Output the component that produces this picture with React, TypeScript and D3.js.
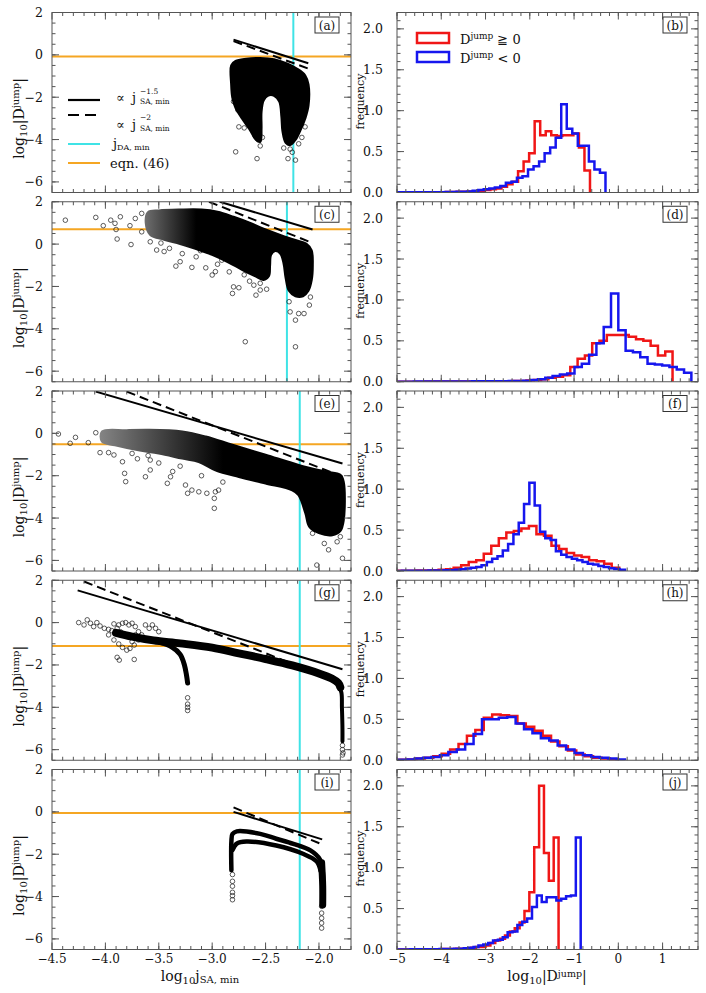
import React from 'react';
import * as d3 from 'd3';

// ---------- histogram data (bin heights, left to right) ----------
// each series: right edge of the last bin, bin width, heights
const histRedB = { end: -0.64, w: 0.125, h: [0.002, 0.002, 0.002, 0.003, 0.003, 0.003, 0.003, 0.003, 0.004, 0.005, 0.006, 0.008, 0.01, 0.012, 0.015, 0.02, 0.03, 0.04, 0.05, 0.07, 0.1, 0.13, 0.26, 0.38, 0.48, 0.87, 0.7, 0.75, 0.7, 0.69, 0.7, 0.7, 0.72, 0.55, 0.27] };
const histBlueB = { end: -0.29, w: 0.125, h: [0.002, 0.002, 0.002, 0.002, 0.003, 0.003, 0.003, 0.003, 0.004, 0.005, 0.006, 0.008, 0.01, 0.012, 0.02, 0.03, 0.04, 0.05, 0.06, 0.08, 0.12, 0.13, 0.18, 0.2, 0.28, 0.32, 0.38, 0.48, 0.55, 0.67, 1.08, 0.78, 0.72, 0.57, 0.57, 0.38, 0.28, 0.24] };
const histRedD = { end: 1.225, w: 0.165, h: [0.001, 0.001, 0.001, 0.001, 0.002, 0.002, 0.002, 0.002, 0.003, 0.003, 0.003, 0.004, 0.004, 0.005, 0.006, 0.007, 0.008, 0.01, 0.015, 0.02, 0.03, 0.05, 0.06, 0.08, 0.18, 0.28, 0.32, 0.47, 0.5, 0.57, 0.57, 0.57, 0.55, 0.52, 0.5, 0.44, 0.32, 0.37] };
const histBlueD = { end: 1.65, w: 0.165, h: [0.001, 0.001, 0.001, 0.002, 0.002, 0.002, 0.003, 0.003, 0.003, 0.004, 0.004, 0.005, 0.005, 0.006, 0.006, 0.007, 0.008, 0.01, 0.012, 0.02, 0.03, 0.05, 0.07, 0.09, 0.1, 0.18, 0.22, 0.33, 0.47, 0.67, 1.08, 0.63, 0.38, 0.36, 0.3, 0.22, 0.21, 0.2, 0.18, 0.15, 0.11] };
const histRedF = { end: 0.02, w: 0.17, h: [0.002, 0.003, 0.004, 0.005, 0.007, 0.01, 0.015, 0.02, 0.04, 0.07, 0.11, 0.13, 0.21, 0.31, 0.4, 0.47, 0.49, 0.52, 0.55, 0.45, 0.43, 0.31, 0.27, 0.22, 0.19, 0.17, 0.13, 0.12, 0.09, 0.04] };
const histBlueF = { end: 0.15, w: 0.12, h: [0.001, 0.001, 0.002, 0.002, 0.003, 0.003, 0.004, 0.005, 0.006, 0.007, 0.008, 0.01, 0.015, 0.02, 0.03, 0.04, 0.05, 0.07, 0.11, 0.15, 0.18, 0.25, 0.33, 0.45, 0.59, 0.82, 1.08, 0.8, 0.48, 0.4, 0.38, 0.24, 0.2, 0.17, 0.15, 0.13, 0.11, 0.09, 0.08, 0.06, 0.05, 0.035, 0.025, 0.015] };
const histRedH = { end: 0.0, w: 0.19, h: [0.002, 0.005, 0.01, 0.02, 0.03, 0.05, 0.08, 0.13, 0.2, 0.3, 0.37, 0.52, 0.56, 0.55, 0.54, 0.45, 0.41, 0.36, 0.3, 0.23, 0.17, 0.12, 0.07, 0.05, 0.03, 0.02, 0.01] };
const histBlueH = { end: 0.15, w: 0.19, h: [0.002, 0.005, 0.01, 0.02, 0.03, 0.04, 0.06, 0.1, 0.13, 0.2, 0.32, 0.5, 0.5, 0.52, 0.53, 0.45, 0.38, 0.33, 0.27, 0.24, 0.18, 0.13, 0.09, 0.06, 0.04, 0.03, 0.02, 0.01] };
const histRedJ = { end: -1.35, w: 0.11, h: [0.001, 0.001, 0.001, 0.001, 0.002, 0.002, 0.002, 0.003, 0.003, 0.004, 0.005, 0.006, 0.007, 0.008, 0.01, 0.015, 0.02, 0.03, 0.03, 0.05, 0.08, 0.11, 0.13, 0.17, 0.22, 0.26, 0.33, 0.47, 0.7, 1.25, 2.0, 1.18, 0.84, 1.37] };
const histBlueJ = { end: -0.85, w: 0.11, h: [0.001, 0.001, 0.001, 0.002, 0.002, 0.002, 0.003, 0.003, 0.004, 0.005, 0.006, 0.007, 0.008, 0.01, 0.015, 0.02, 0.03, 0.05, 0.06, 0.08, 0.11, 0.12, 0.15, 0.21, 0.22, 0.3, 0.34, 0.38, 0.52, 0.66, 0.58, 0.64, 0.64, 0.6, 0.62, 0.65, 0.66, 1.37] };

// ---------- scatter data: dense regions (outlines), thick tracks and loose points ----------
const blobA = [[-2.82, -0.5], [-2.78, -0.3], [-2.68, -0.2], [-2.55, -0.16], [-2.42, -0.22], [-2.3, -0.42], [-2.2, -0.68], [-2.13, -0.98], [-2.1, -1.4], [-2.1, -2.4], [-2.13, -3.0], [-2.17, -3.5], [-2.22, -4.0], [-2.27, -4.25], [-2.31, -4.15], [-2.34, -3.6], [-2.35, -2.9], [-2.37, -2.2], [-2.42, -1.92], [-2.48, -1.92], [-2.52, -2.15], [-2.54, -2.7], [-2.54, -3.5], [-2.55, -4.1], [-2.59, -4.0], [-2.65, -3.5], [-2.72, -3.0], [-2.78, -2.5], [-2.81, -2.0], [-2.82, -1.4]];
const blobC = [[-3.6, 1.5], [-3.5, 1.58], [-3.3, 1.62], [-3.1, 1.62], [-2.95, 1.52], [-2.8, 1.28], [-2.65, 1.0], [-2.5, 0.68], [-2.35, 0.4], [-2.22, 0.18], [-2.12, 0.02], [-2.07, -0.3], [-2.06, -1.0], [-2.07, -1.7], [-2.1, -2.2], [-2.15, -2.45], [-2.22, -2.45], [-2.28, -2.2], [-2.31, -1.6], [-2.33, -0.9], [-2.36, -0.45], [-2.41, -0.32], [-2.45, -0.5], [-2.46, -1.0], [-2.47, -1.5], [-2.52, -1.68], [-2.6, -1.5], [-2.72, -1.2], [-2.85, -0.85], [-3.0, -0.5], [-3.15, -0.22], [-3.3, 0.02], [-3.45, 0.22], [-3.58, 0.45], [-3.62, 1.0]];
const blobE = [[-4.03, 0.08], [-3.8, 0.14], [-3.59, 0.16], [-3.28, 0.08], [-3.06, -0.16], [-2.81, -0.55], [-2.5, -1.02], [-2.19, -1.5], [-1.94, -1.81], [-1.8, -1.97], [-1.77, -2.3], [-1.77, -4.1], [-1.8, -4.6], [-1.875, -4.8], [-2.0, -4.7], [-2.09, -4.4], [-2.125, -3.78], [-2.19, -2.91], [-2.25, -2.68], [-2.5, -2.36], [-2.75, -2.05], [-2.97, -1.73], [-3.125, -1.34], [-3.28, -1.18], [-3.5, -0.94], [-3.69, -0.79], [-3.91, -0.55], [-4.03, -0.39]];

const trackG1 = [[-3.9, -0.48], [-3.75, -0.66], [-3.55, -0.84], [-3.3, -0.98], [-3.0, -1.18], [-2.75, -1.45], [-2.5, -1.72], [-2.25, -2.02], [-2.0, -2.4], [-1.88, -2.64], [-1.82, -2.85], [-1.8, -3.05]];
const trackG2 = [[-1.82, -2.9], [-1.79, -3.3], [-1.785, -4.0], [-1.78, -5.0], [-1.78, -5.6]];
const trackG3 = [[-3.48, -0.95], [-3.38, -1.15], [-3.3, -1.5], [-3.26, -2.0], [-3.24, -2.5], [-3.23, -2.85]];
const trackI1 = [[-2.82, -2.75], [-2.82, -1.4], [-2.81, -1.05], [-2.77, -0.92], [-2.55, -1.04], [-2.4, -1.27], [-2.24, -1.51], [-2.08, -1.82], [-1.99, -2.25], [-1.965, -2.8], [-1.96, -3.6], [-1.96, -4.4]];
const trackI2 = [[-2.81, -1.8], [-2.77, -1.5], [-2.68, -1.4], [-2.4, -1.59], [-2.15, -1.98], [-2.02, -2.35], [-1.985, -2.8]];
const trackI3 = [[-1.975, -2.4], [-1.965, -3.5], [-1.965, -4.4]];

const pointsA = [[-2.78, -4.58], [-2.75, -3.4], [-2.7, -3.45], [-2.65, -3.38], [-2.62, -3.55], [-2.58, -4.9], [-2.55, -4.3], [-2.6, -3.8], [-2.29, -4.9], [-2.22, -4.97], [-2.27, -4.45], [-2.19, -4.2], [-2.16, -3.9], [-2.13, -3.4], [-2.76, -2.6], [-2.8, -2.2], [-2.57, -4.0], [-2.53, -3.9], [-2.33, -4.4], [-2.25, -4.6]];
const pointsC = [[-4.375, 1.13], [-4.09, 1.26], [-4.02, 0.87], [-3.95, 1.13], [-3.91, 0.98], [-3.9, 0.69], [-3.89, 0.24], [-3.86, 1.29], [-3.76, -0.02], [-3.77, 0.87], [-3.72, 1.21], [-3.66, 0.58], [-3.66, 1.45], [-3.58, 0.11], [-3.52, -0.28], [-3.34, -1.04], [-3.3, -0.83], [-3.19, -1.1], [-3.06, -1.12], [-2.91, -0.76], [-2.84, -1.31], [-2.8, -2.02], [-2.81, -2.33], [-2.75, -2.06], [-2.69, -4.61], [-2.61, -1.94], [-2.59, -2.41], [-2.55, -2.17], [-2.49, -2.13], [-2.28, -2.72], [-2.27, -3.2], [-2.22, -3.59], [-2.19, -3.28], [-2.14, -3.28], [-2.22, -4.85], [-2.09, -2.88], [-2.08, -2.5], [-3.0, -1.46], [-2.97, -1.3], [-3.11, -0.31], [-3.2, -0.05], [-3.4, -0.2], [-3.48, 0.05], [-3.45, -0.35], [-3.28, -0.45], [-3.15, -0.6], [-2.95, -0.95], [-2.7, -1.45], [-2.65, -1.75], [-2.55, -1.85]];
const pointsE = [[-4.44, -0.03], [-4.33, -0.47], [-4.28, -0.19], [-4.16, -0.44], [-4.09, 0.03], [-4.05, -0.91], [-3.97, -0.91], [-3.92, -1.02], [-3.84, -1.34], [-3.82, -1.89], [-3.81, -2.28], [-3.625, -2.05], [-3.58, -1.26], [-3.58, -1.73], [-3.42, -2.36], [-3.39, -2.05], [-3.37, -1.8], [-3.25, -2.44], [-3.23, -2.83], [-3.19, -2.68], [-3.125, -2.76], [-3.05, -2.83], [-2.98, -3.07], [-2.97, -2.76], [-2.98, -3.54], [-2.94, -2.68], [-2.02, -6.22], [-1.78, -5.9], [-1.95, -5.2], [-1.91, -5.5], [-1.83, -5.12], [-1.8, -4.88], [-2.06, -4.72], [-3.7, -1.2], [-3.5, -1.4], [-3.3, -1.55], [-3.1, -2.0], [-2.9, -2.3], [-3.75, -0.95], [-3.6, -1.05]];
const pointsG = [[-4.25, 0.0], [-4.2, -0.11], [-4.17, 0.13], [-4.14, -0.03], [-4.11, -0.19], [-4.08, 0.0], [-4.05, -0.16], [-4.01, -0.27], [-3.97, -0.32], [-3.94, -0.38], [-3.92, -0.06], [-3.91, -0.5], [-3.89, -0.27], [-3.875, -0.11], [-3.86, -0.43], [-3.84, -0.03], [-3.81, 0.0], [-3.78, -0.11], [-3.75, -0.03], [-3.72, -0.19], [-3.69, -0.43], [-3.72, -0.58], [-3.77, -0.66], [-3.81, -0.58], [-3.84, -0.51], [-3.625, -0.11], [-3.59, -0.27], [-3.56, -0.11], [-3.53, -0.27], [-3.5, -0.43], [-3.92, -0.82], [-3.875, -1.01], [-3.84, -1.17], [-3.8, -1.3], [-3.77, -1.22], [-3.73, -1.06], [-3.75, -0.9], [-3.89, -1.64], [-3.87, -1.77], [-3.73, -1.74], [-3.97, -0.58], [-3.69, -0.82], [-3.66, -0.58], [-3.23, -3.55], [-3.23, -3.85], [-3.23, -4.0], [-3.23, -4.15], [-1.78, -5.8], [-1.78, -6.0], [-1.775, -6.15], [-1.78, -6.25]];
const pointsI = [[-2.81, -2.96], [-2.81, -3.28], [-2.81, -3.51], [-2.81, -3.8], [-2.81, -3.96], [-2.81, -4.15], [-1.975, -4.46], [-1.975, -4.78], [-1.975, -5.02], [-1.975, -5.25], [-1.975, -5.49]];

// power-law guide lines: [start, end]
const slope15 = { a: [[-2.8, 0.72], [-2.1, -0.4]], c: [[-2.93, 2.0], [-2.06, 0.69]], e: [[-4.09, 1.97], [-1.78, -1.42]], g: [[-4.26, 1.52], [-1.78, -2.2]], i: [[-2.8, 0.0], [-1.97, -1.3]] };
const slope2 = { a: [[-2.8, 0.65], [-2.1, -0.65]], c: [[-3.03, 2.0], [-2.09, 0.11]], e: [[-3.8, 1.97], [-1.78, -2.05]], g: [[-4.2, 1.94], [-1.78, -2.88]], i: [[-2.8, 0.21], [-1.97, -1.54]] };
const jDAmin = { a: -2.24, c: -2.3, e: -2.18, g: -2.18, i: -2.18 };
const eqn46 = { a: -0.08, c: 0.7, e: -0.52, g: -1.1, i: -0.05 };

const leftTickLabels = ['-4.5', '-4.0', '-3.5', '-3.0', '-2.5', '-2.0'];
const rightTickLabels = ['-5', '-4', '-3', '-2', '-1', '0', '1'];
const leftYLabels = ['-6', '-4', '-2', '0', '2'];
const rightYLabels = ['0.0', '0.5', '1.0', '1.5', '2.0'];

// ---------- layout ----------
const FONT = 'DejaVu Serif';
const LX0 = 52, LX1 = 351, RX0 = 397, RX1 = 698;
const TOP0 = 12.5, PITCH = 189.25, PH = 180;
const CYAN = '#3fe3e6', ORANGE = '#f5a623', RED = '#f01616', BLUE = '#1616ee';
const FRAME = '#555';

const minus = (s: string) => s.replace('-', '\u2212');

type Sc = d3.ScaleLinear<number, number>;

function Frame({ xs, ys, xMaj, xMin, yMaj, yMin }: { xs: Sc; ys: Sc; xMaj: number[]; xMin: number[]; yMaj: number[]; yMin: number[] }) {
  const [x0, x1] = xs.range();
  const [yb, yt] = ys.range();
  const seg: React.ReactNode[] = [];
  const tk = (v: number, len: number, key: string) => {
    const x = xs(v);
    seg.push(<line key={key + 'b'} x1={x} x2={x} y1={yb} y2={yb - len} />);
    seg.push(<line key={key + 't'} x1={x} x2={x} y1={yt} y2={yt + len} />);
  };
  const tky = (v: number, len: number, key: string) => {
    const y = ys(v);
    seg.push(<line key={key + 'l'} x1={x0} x2={x0 + len} y1={y} y2={y} />);
    seg.push(<line key={key + 'r'} x1={x1} x2={x1 - len} y1={y} y2={y} />);
  };
  xMin.forEach((v, i) => tk(v, 3.5, 'xm' + i));
  xMaj.forEach((v, i) => tk(v, 7, 'xM' + i));
  yMin.forEach((v, i) => tky(v, 3.5, 'ym' + i));
  yMaj.forEach((v, i) => tky(v, 7, 'yM' + i));
  return (
    <g stroke={FRAME} strokeWidth={1} fill="none">
      {seg}
      <rect x={x0} y={yt} width={x1 - x0} height={yb - yt} />
    </g>
  );
}

function PanelTag({ x, y, label }: { x: number; y: number; label: string }) {
  return (
    <g>
      <rect x={x} y={y} width={24} height={16} fill="#fff" stroke="#333" strokeWidth={1} />
      <text x={x + 12} y={y + 12.5} textAnchor="middle" fontSize={12} fontFamily={FONT} fill="#111">({label})</text>
    </g>
  );
}

const smooth = d3.curveCatmullRom.alpha(0.5);

function ScatterPanel({ row, tag, blob, tracks, points, gradient }: { row: number; tag: 'a' | 'c' | 'e' | 'g' | 'i'; blob?: number[][]; tracks?: { pts: number[][]; w: number }[]; points: number[][]; gradient?: [number, number] }) {
  const top = TOP0 + row * PITCH;
  const xs = d3.scaleLinear().domain([-4.5, -1.7]).range([LX0, LX1]);
  const ys = d3.scaleLinear().domain([-6.5, 2.0]).range([top + PH, top]);
  const clip = 'clipL' + tag;
  const gid = 'gradL' + tag;
  const line = d3.line<number[]>().x(d => xs(d[0])).y(d => ys(d[1]));
  const closed = d3.line<number[]>().x(d => xs(d[0])).y(d => ys(d[1])).curve(d3.curveCatmullRomClosed.alpha(0.5));
  const track = d3.line<number[]>().x(d => xs(d[0])).y(d => ys(d[1])).curve(smooth);
  const s15 = slope15[tag], s2 = slope2[tag];
  return (
    <g>
      <defs>
        <clipPath id={clip}>
          <rect x={LX0} y={top} width={LX1 - LX0} height={PH} />
        </clipPath>
        {gradient && (
          <linearGradient id={gid} gradientUnits="userSpaceOnUse" x1={xs(gradient[0])} x2={xs(gradient[1])} y1={0} y2={0}>
            <stop offset="0" stopColor="#8a8a8a" />
            <stop offset="1" stopColor="#000" />
          </linearGradient>
        )}
      </defs>
      <g clipPath={`url(#${clip})`}>
        <line x1={LX0} x2={LX1} y1={ys(eqn46[tag])} y2={ys(eqn46[tag])} stroke={ORANGE} strokeWidth={2} />
        <line x1={xs(jDAmin[tag])} x2={xs(jDAmin[tag])} y1={top} y2={top + PH} stroke={CYAN} strokeWidth={2} />
        {points.map((p, i) => (
          <circle key={i} cx={xs(p[0])} cy={ys(p[1])} r={2.3} fill="none" stroke="#111" strokeOpacity={0.8} strokeWidth={0.85} />
        ))}
        {blob && (
          <path d={closed(blob) || ''} fill={gradient ? `url(#${gid})` : '#000'} stroke={gradient ? `url(#${gid})` : '#000'} strokeWidth={2.5} strokeLinejoin="round" />
        )}
        {tracks && tracks.map((t, i) => (
          <path key={i} d={track(t.pts) || ''} fill="none" stroke="#000" strokeWidth={t.w} strokeLinecap="round" strokeLinejoin="round" />
        ))}
        <path d={line(s15) || ''} stroke="#000" strokeWidth={2} fill="none" />
        <path d={line(s2) || ''} stroke="#000" strokeWidth={2} fill="none" strokeDasharray="9 5" />
      </g>
      <Frame xs={xs} ys={ys} xMaj={[-4.5, -4, -3.5, -3, -2.5, -2]} xMin={d3.range(-44, -16).map(v => v / 10)} yMaj={[-6, -4, -2, 0, 2]} yMin={d3.range(-13, 5).map(v => v / 2)} />
      {leftYLabels.map(s => (
        <text key={s} x={43} y={ys(+s) + 4.5} textAnchor="end" fontSize={12.5} fontFamily={FONT} fill="#111">{minus(s)}</text>
      ))}
      <text transform={`translate(24,${top + 106}) rotate(-90)`} textAnchor="middle" fontSize={14} fontFamily={FONT} fill="#111">
        log<tspan fontSize={10} dy={3}>10</tspan><tspan dy={-3}>|D</tspan><tspan fontSize={10} dy={-5}>jump</tspan><tspan dy={5}>|</tspan>
      </text>
      <PanelTag x={LX1 - 36} y={top + 4.5} label={tag} />
    </g>
  );
}

function HistPanel({ row, tag, red, blue }: { row: number; tag: string; red: { end: number; w: number; h: number[] }; blue: { end: number; w: number; h: number[] } }) {
  const top = TOP0 + row * PITCH;
  const xs = d3.scaleLinear().domain([-5, 1.8]).range([RX0, RX1]);
  const ys = d3.scaleLinear().domain([0, 2.2]).range([top + PH, top]);
  const clip = 'clipR' + tag;
  const step = d3.line<number[]>().x(d => xs(d[0])).y(d => ys(d[1]));
  const pts = (s: { end: number; w: number; h: number[] }) => {
    const x0 = s.end - s.h.length * s.w;
    const out: number[][] = [[x0, 0]];
    s.h.forEach((v, i) => {
      out.push([x0 + i * s.w, v]);
      out.push([x0 + (i + 1) * s.w, v]);
    });
    out.push([s.end, 0]);
    return out;
  };
  return (
    <g>
      <defs>
        <clipPath id={clip}>
          <rect x={RX0} y={top - 2} width={RX1 - RX0} height={PH + 2} />
        </clipPath>
      </defs>
      <g clipPath={`url(#${clip})`}>
        <path d={step(pts(red)) || ''} fill="none" stroke={RED} strokeWidth={2.5} />
        <path d={step(pts(blue)) || ''} fill="none" stroke={BLUE} strokeWidth={2.5} />
      </g>
      <Frame xs={xs} ys={ys} xMaj={[-5, -4, -3, -2, -1, 0, 1]} xMin={d3.range(-25, 10).map(v => v / 5)} yMaj={[0, 0.5, 1, 1.5, 2]} yMin={d3.range(0, 23).map(v => v / 10)} />
      {rightYLabels.map(s => (
        <text key={s} x={383} y={ys(+s) + 4.5} textAnchor="end" fontSize={12.5} fontFamily={FONT} fill="#111">{s}</text>
      ))}
      <text transform={`translate(364,${top + 89}) rotate(-90)`} textAnchor="middle" fontSize={11} fontFamily={FONT} fill="#111">frequency</text>
      <PanelTag x={RX1 - 35} y={top + 4.5} label={tag} />
    </g>
  );
}

const App: React.FC = () => {
  const lastTop = TOP0 + 4 * PITCH;
  const xl = d3.scaleLinear().domain([-4.5, -1.7]).range([LX0, LX1]);
  const xr = d3.scaleLinear().domain([-5, 1.8]).range([RX0, RX1]);
  const tA = TOP0;
  return (
    <svg width={706} height={993} style={{ position: 'absolute', left: 0, top: 0, background: '#fff' }}>
      <ScatterPanel row={0} tag="a" blob={blobA} points={pointsA} />
      <ScatterPanel row={1} tag="c" blob={blobC} points={pointsC} gradient={[-3.75, -3.15]} />
      <ScatterPanel row={2} tag="e" blob={blobE} points={pointsE} gradient={[-4.1, -2.9]} />
      <ScatterPanel row={3} tag="g" points={pointsG} tracks={[{ pts: trackG1, w: 8 }, { pts: trackG2, w: 4 }, { pts: trackG3, w: 5 }]} />
      <ScatterPanel row={4} tag="i" points={pointsI} tracks={[{ pts: trackI1, w: 4.5 }, { pts: trackI2, w: 4.5 }, { pts: trackI3, w: 7 }]} />

      <HistPanel row={0} tag="b" red={histRedB} blue={histBlueB} />
      <HistPanel row={1} tag="d" red={histRedD} blue={histBlueD} />
      <HistPanel row={2} tag="f" red={histRedF} blue={histBlueF} />
      <HistPanel row={3} tag="h" red={histRedH} blue={histBlueH} />
      <HistPanel row={4} tag="j" red={histRedJ} blue={histBlueJ} />

      {/* legend, panel (a) */}
      <g fontFamily={FONT} fill="#111">
        <line x1={68} x2={100} y1={tA + 87.5} y2={tA + 87.5} stroke="#000" strokeWidth={2.2} />
        <text x={116} y={tA + 89} fontSize={13}>∝</text>
        <text x={132} y={tA + 89} fontSize={13}>j</text>
        <text x={140} y={tA + 81} fontSize={7.5}>−1.5</text>
        <text x={140} y={tA + 91} fontSize={7.5}>SA, min</text>
        <line x1={68} x2={100} y1={tA + 102.5} y2={tA + 102.5} stroke="#000" strokeWidth={2.2} strokeDasharray="11 6" />
        <text x={116} y={tA + 116} fontSize={13}>∝</text>
        <text x={132} y={tA + 116} fontSize={13}>j</text>
        <text x={140} y={tA + 107.5} fontSize={7.5}>−2</text>
        <text x={140} y={tA + 118} fontSize={7.5}>SA, min</text>
        <line x1={68} x2={100} y1={tA + 131.5} y2={tA + 131.5} stroke={CYAN} strokeWidth={2} />
        <text x={113} y={tA + 135} fontSize={13}>j<tspan fontSize={8} dy={2}>DA, min</tspan></text>
        <line x1={68} x2={100} y1={tA + 150.5} y2={tA + 150.5} stroke={ORANGE} strokeWidth={2} />
        <text x={110} y={tA + 155.5} fontSize={13}>eqn. (46)</text>
      </g>

      {/* legend, panel (b) */}
      <g fontFamily={FONT} fill="#111">
        <rect x={417} y={tA + 20.5} width={32} height={10} fill="none" stroke={RED} strokeWidth={2.5} />
        <text x={460} y={tA + 31} fontSize={13}>D<tspan fontSize={9} dy={-5}>jump</tspan><tspan dy={5}> ≧ 0</tspan></text>
        <rect x={417} y={tA + 39.5} width={32} height={10} fill="none" stroke={BLUE} strokeWidth={2.5} />
        <text x={460} y={tA + 50} fontSize={13}>D<tspan fontSize={9} dy={-5}>jump</tspan><tspan dy={5}> &lt; 0</tspan></text>
      </g>

      {/* bottom tick labels and axis titles */}
      <g fontFamily={FONT} fill="#111" fontSize={12} textAnchor="middle">
        {leftTickLabels.map(s => (
          <text key={s} x={xl(+s)} y={lastTop + PH + 13.5}>{minus(s)}</text>
        ))}
        {rightTickLabels.map(s => (
          <text key={s} x={xr(+s)} y={lastTop + PH + 13.5}>{minus(s)}</text>
        ))}
      </g>
      <text x={200} y={981} textAnchor="middle" fontSize={14} fontFamily={FONT} fill="#111">
        log<tspan fontSize={10} dy={3}>10</tspan><tspan dy={-3}>j</tspan><tspan fontSize={10} dy={2}>SA, min</tspan>
      </text>
      <text x={547} y={981} textAnchor="middle" fontSize={14} fontFamily={FONT} fill="#111">
        log<tspan fontSize={10} dy={3}>10</tspan><tspan dy={-3}>|D</tspan><tspan fontSize={9.5} dy={-4}>jump</tspan><tspan dy={4}>|</tspan>
      </text>
    </svg>
  );
};

export default App;
